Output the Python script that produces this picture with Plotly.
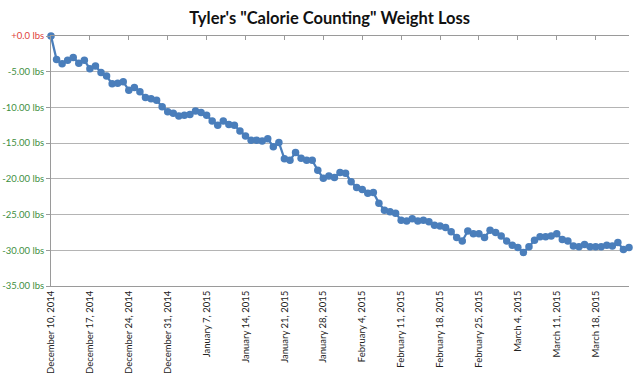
import plotly.graph_objects as go
import pandas as pd

start_date = "2014-12-10"
weight_change = [
    0.0, -3.3, -3.9, -3.4, -3.0, -3.8, -3.4, -4.6, -4.2, -5.1,
    -5.6, -6.7, -6.6, -6.4, -7.6, -7.2, -7.8, -8.6, -8.8, -9.0,
    -9.9, -10.6, -10.8, -11.2, -11.1, -11.0, -10.5, -10.7, -11.1, -11.9,
    -12.5, -11.9, -12.4, -12.5, -13.3, -14.0, -14.6, -14.6, -14.7, -14.4,
    -15.5, -14.9, -17.2, -17.4, -16.3, -17.1, -17.4, -17.4, -18.8, -19.9,
    -19.6, -19.8, -19.1, -19.2, -20.4, -21.2, -21.5, -22.0, -21.9, -23.4,
    -24.4, -24.6, -24.8, -25.8, -25.9, -25.6, -25.9, -25.8, -26.0, -26.5,
    -26.6, -26.8, -27.4, -28.2, -28.7, -27.3, -27.7, -27.7, -28.2, -27.2,
    -27.5, -28.0, -28.7, -29.3, -29.6, -30.3, -29.5, -28.6, -28.1, -28.1,
    -28.0, -27.7, -28.5, -28.7, -29.4, -29.5, -29.2, -29.5, -29.5, -29.5,
    -29.3, -29.4, -28.9, -29.9, -29.6,
]
dates = pd.date_range(start_date, periods=len(weight_change), freq="D")

x_tick_dates = pd.date_range("2014-12-10", "2015-03-18", freq="7D")
y_tick_vals = [0, -5, -10, -15, -20, -25, -30, -35]
y_tick_text = ['<span style="color:#e0443c">+0.0 lbs</span>'] + [
    f'<span style="color:#3f8f3f">{v:.2f} lbs</span>' for v in y_tick_vals[1:]
]

x_range = [dates[0], dates[-1]]

fig = go.Figure()
fig.add_trace(go.Scatter(
    x=dates, y=weight_change, mode="lines+markers",
    line=dict(color="#4a7ebb", width=2.25),
    marker=dict(color="#4a7ebb", size=7.5),
    cliponaxis=False, showlegend=False,
))
fig.add_trace(go.Scatter(
    x=[dates[0]], y=[0], xaxis="x2", mode="markers",
    marker=dict(opacity=0), showlegend=False, hoverinfo="skip",
))

font_family = "Lato, Carlito, Calibri, sans-serif"
fig.update_layout(
    width=634, height=373,
    margin=dict(l=51, r=5, t=36, b=87, autoexpand=False),
    paper_bgcolor="white", plot_bgcolor="white",
    title=dict(text="<b>Tyler's \"Calorie Counting\" Weight Loss</b>",
               x=0.52, xanchor="center", y=0.952, yanchor="middle",
               font=dict(family=font_family, size=16.5, color="#111")),
    font=dict(family=font_family),
    xaxis=dict(
        type="date", range=x_range, tickvals=list(x_tick_dates),
        tickformat="%B %-d, %Y", tickangle=-90, automargin=False,
        tickfont=dict(size=9.5, color="#222"),
        showgrid=False, showline=True, linecolor="#9a9a9a", linewidth=1,
        ticks="", zeroline=False,
    ),
    xaxis2=dict(
        type="date", range=x_range, overlaying="x", side="top", anchor="y",
        tickvals=list(x_tick_dates), showticklabels=False, automargin=False,
        ticks="inside", ticklen=4, tickcolor="#9a9a9a",
        showgrid=False, showline=True, linecolor="#9a9a9a", linewidth=1,
    ),
    yaxis=dict(
        range=[-35, 0], tickvals=y_tick_vals, ticktext=y_tick_text,
        tickfont=dict(size=9.5), automargin=False,
        showgrid=True, gridcolor="#b4b4b4", gridwidth=1,
        showline=True, linecolor="#9a9a9a", linewidth=1,
        ticks="outside", ticklen=4, tickcolor="#9a9a9a",
        zeroline=False,
    ),
)

fig.write_html(
    "out.html",
    config={"displayModeBar": False},
    post_script="document.body.style.margin='0';document.body.style.overflow='hidden';",
)
